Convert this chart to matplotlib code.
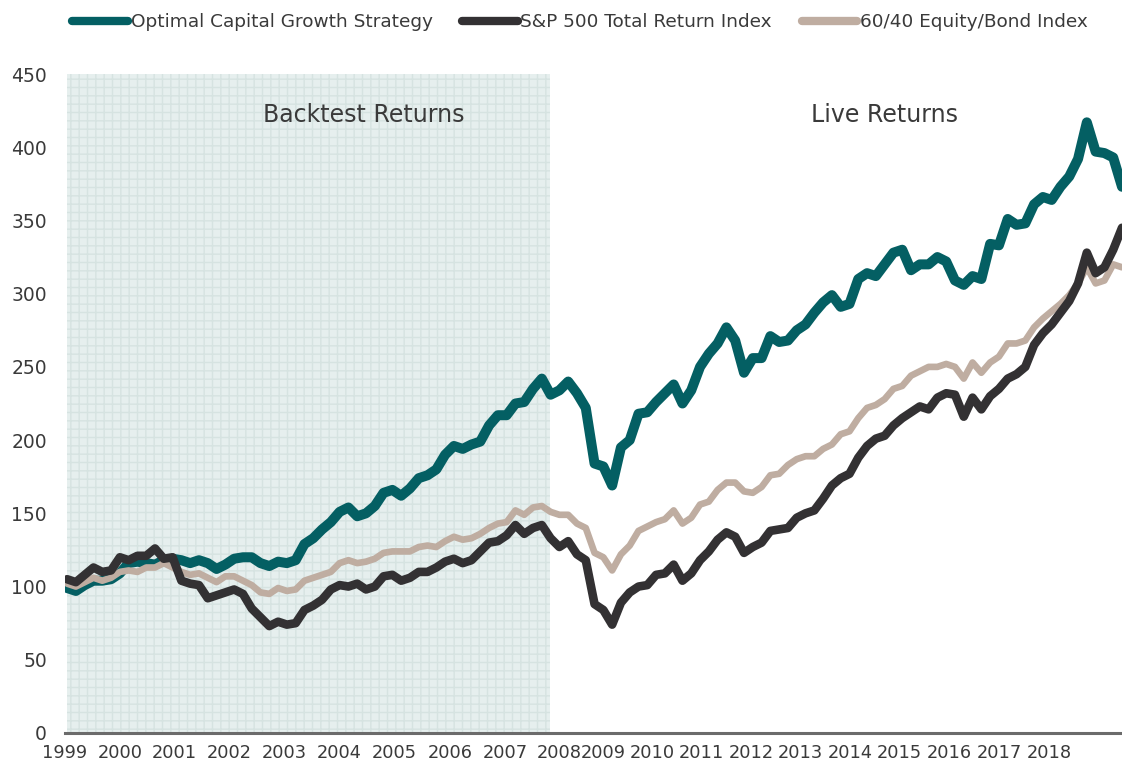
import numpy as np
import matplotlib
matplotlib.use("Agg")
import matplotlib.pyplot as plt

plt.rcParams['font.family'] = ['DejaVu Sans']

# bi-monthly observations, Jan 1999 .. Jan 2019
n_obs = 121
years = 1999 + np.arange(n_obs) / 6.0

optimal = [99, 97, 101, 104, 104, 105, 109, 116, 117, 116,
           115, 118, 119, 118, 116, 118, 116, 112, 115, 119,
           120, 120, 116, 114, 117, 116, 118, 129, 133, 139,
           144, 151, 154, 148, 150, 155, 164, 166, 162, 167,
           174, 176, 180, 190, 196, 194, 197, 199, 210, 217,
           217, 225, 226, 235, 242, 231, 234, 240, 232, 222,
           184, 182, 169, 195, 200, 218, 219, 226, 232, 238,
           225, 234, 250, 259, 266, 277, 268, 246, 256, 256,
           271, 267, 268, 275, 279, 287, 294, 299, 291, 293,
           310, 314, 312, 320, 328, 330, 316, 320, 320, 325,
           322, 309, 306, 312, 310, 334, 333, 351, 347, 348,
           361, 366, 364, 373, 380, 392, 417, 397, 396, 393,
           373]

sp500 = [105, 103, 108, 113, 110, 111, 120, 118, 121, 121,
         126, 119, 120, 104, 102, 101, 92, 94, 96, 98,
         95, 85, 79, 73, 76, 74, 75, 84, 87, 91,
         98, 101, 100, 102, 98, 100, 107, 108, 104, 106,
         110, 110, 113, 117, 119, 116, 118, 124, 130, 131,
         135, 142, 136, 140, 142, 133, 127, 131, 122, 118,
         88, 84, 74, 89, 96, 100, 101, 108, 109, 115,
         104, 109, 118, 124, 132, 137, 134, 123, 127, 130,
         138, 139, 140, 147, 150, 152, 160, 169, 174, 177,
         188, 196, 201, 203, 210, 215, 219, 223, 221, 229,
         232, 231, 216, 229, 221, 230, 235, 242, 245, 250,
         265, 273, 279, 287, 295, 307, 328, 314, 318, 330,
         345]

balanced = [102, 100, 103, 106, 104, 106, 110, 111, 110, 113,
            113, 116, 113, 110, 108, 109, 106, 103, 107, 107,
            104, 101, 96, 95, 99, 97, 98, 104, 106, 108,
            110, 116, 118, 116, 117, 119, 123, 124, 124, 124,
            127, 128, 127, 131, 134, 132, 133, 136, 140, 143,
            144, 152, 149, 154, 155, 151, 149, 149, 143, 140,
            123, 120, 111, 122, 128, 138, 141, 144, 146, 152,
            143, 147, 156, 158, 166, 171, 171, 165, 164, 168,
            176, 177, 183, 187, 189, 189, 194, 197, 204, 206,
            215, 222, 224, 228, 235, 237, 244, 247, 250, 250,
            252, 250, 242, 253, 246, 253, 257, 266, 266, 268,
            277, 283, 288, 293, 299, 307, 318, 307, 309, 320,
            318]

series_names = ["Optimal Capital Growth Strategy",
                "S&P 500 Total Return Index",
                "60/40 Equity/Bond Index"]
year_labels = [str(y) for y in range(1999, 2019)]
y_ticks = [0, 50, 100, 150, 200, 250, 300, 350, 400, 450]

GREEN = '#045f63'
BLACK = '#333133'
TAN = '#bfada1'
TXT = '#3a3a3a'

fig = plt.figure(figsize=(11.22, 7.65), dpi=100)
ax = fig.add_axes([65 / 1122, 32 / 765, 1057 / 1122, 659 / 765])

# backtest shading with grid texture
ax.axvspan(1999, 2008.16, facecolor='#e6efee', edgecolor='#d6e3e1',
           hatch='++', linewidth=0, zorder=0)

l1, = ax.plot(years, optimal, color=GREEN, lw=7.2, solid_capstyle='round',
              solid_joinstyle='round', zorder=3)
l3, = ax.plot(years, balanced, color=TAN, lw=4.8, solid_capstyle='round',
              solid_joinstyle='round', zorder=4)
l2, = ax.plot(years, sp500, color=BLACK, lw=6.2, solid_capstyle='round',
              solid_joinstyle='round', zorder=5)

ax.set_xlim(1999, years[-1])
ax.set_ylim(0, 450)
ax.set_yticks(y_ticks)
ax.set_yticklabels([str(v) for v in y_ticks])

tick_pos = [1998.96, 2000.0, 2001.04, 2002.08, 2003.12, 2004.16, 2005.2,
            2006.26, 2007.3, 2008.33, 2009.16, 2010.09, 2011.03, 2011.98,
            2012.91, 2013.85, 2014.78, 2015.73, 2016.67, 2017.62]
ax.set_xticks(tick_pos)
ax.set_xticklabels(year_labels)

for s in ['top', 'right', 'left']:
    ax.spines[s].set_visible(False)
ax.spines['bottom'].set_color('#6b6b6b')
ax.spines['bottom'].set_linewidth(2.2)
ax.tick_params(axis='both', length=0, colors=TXT)
ax.tick_params(axis='y', pad=13, labelsize=13.5)
ax.tick_params(axis='x', pad=8, labelsize=12.8)

ax.text(2004.62, 422, "Backtest Returns", ha='center', va='center',
        fontsize=17, color=TXT)
ax.text(2014.5, 422, "Live Returns", ha='center', va='center',
        fontsize=17, color=TXT)

leg = fig.legend([l1, l2, l3], series_names, loc='center',
                 bbox_to_anchor=(0.517, 0.971), ncol=3, frameon=False,
                 fontsize=13.3, handlelength=3.0, handletextpad=0.15,
                 columnspacing=1.6)
for h in leg.legend_handles:
    h.set_linewidth(6)
for t in leg.get_texts():
    t.set_color(TXT)

fig.savefig('out.png', dpi=100)
